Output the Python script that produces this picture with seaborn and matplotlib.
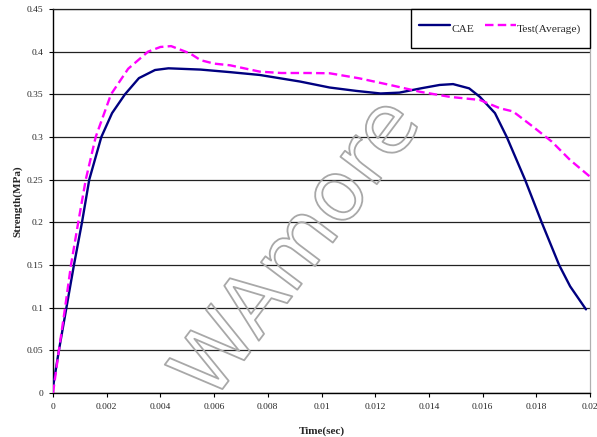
import matplotlib
matplotlib.use("Agg")
import matplotlib.pyplot as plt
import matplotlib.patheffects as pe
import seaborn as sns
import pandas as pd

# ---- data ----
cae_time = [0, 0.00022, 0.0005, 0.00078, 0.00108, 0.00135, 0.0018, 0.0022, 0.00268,
            0.0032, 0.0038, 0.0043, 0.0055, 0.0066, 0.0077, 0.0092, 0.0103, 0.0113,
            0.0122, 0.0129, 0.0137, 0.0144, 0.0149, 0.0155, 0.0159, 0.01646, 0.0169,
            0.01758, 0.0182, 0.01885, 0.01926, 0.01985]
cae_strength = [0.007, 0.05, 0.10, 0.15, 0.20, 0.25, 0.30, 0.328, 0.35,
                0.369, 0.3785, 0.3805, 0.379, 0.376, 0.3727, 0.365, 0.358, 0.354,
                0.351, 0.352, 0.357, 0.361, 0.362, 0.357, 0.347, 0.328, 0.30,
                0.25, 0.20, 0.15, 0.125, 0.098]

test_time = [0, 0.00022, 0.00045, 0.00067, 0.00094, 0.00122, 0.00159, 0.00216, 0.0028,
             0.00354, 0.004, 0.0044, 0.0051, 0.0055, 0.006, 0.0066, 0.0077, 0.0085,
             0.0095, 0.0103, 0.0114, 0.01255, 0.01367, 0.01479, 0.0159, 0.01665,
             0.01713, 0.01788, 0.01858, 0.01926, 0.0200]
test_strength = [0.0, 0.05, 0.10, 0.15, 0.20, 0.25, 0.30, 0.35, 0.38,
                 0.40, 0.4055, 0.4065, 0.398, 0.390, 0.386, 0.384, 0.3766, 0.375,
                 0.375, 0.3747, 0.3688, 0.361, 0.353, 0.347, 0.3434, 0.3336,
                 0.330, 0.312, 0.2945, 0.273, 0.2535]

series_names = ["CAE", "Test(Average)"]
x_ticks = [0, 0.002, 0.004, 0.006, 0.008, 0.01, 0.012, 0.014, 0.016, 0.018, 0.02]
x_tick_labels = ["0", "0.002", "0.004", "0.006", "0.008", "0.01", "0.012", "0.014",
                 "0.016", "0.018", "0.02"]
y_ticks = [0, 0.05, 0.1, 0.15, 0.2, 0.25, 0.3, 0.35, 0.4, 0.45]
y_tick_labels = ["0", "0.05", "0.1", "0.15", "0.2", "0.25", "0.3", "0.35", "0.4", "0.45"]

df = pd.concat([
    pd.DataFrame({"Time": cae_time, "Strength": cae_strength, "Series": series_names[0]}),
    pd.DataFrame({"Time": test_time, "Strength": test_strength, "Series": series_names[1]}),
])

sns.set_style("white")
plt.rcParams["font.family"] = ["Liberation Serif", "DejaVu Serif"]

fig = plt.figure(figsize=(5.97, 4.37), dpi=100)
ax = fig.add_axes([53 / 597, 1 - 393 / 437, 537 / 597, 384 / 437])

sns.lineplot(data=df, x="Time", y="Strength", hue="Series", style="Series",
             palette={"CAE": "#000080", "Test(Average)": "#FF00FF"},
             dashes={"CAE": "", "Test(Average)": (3.6, 1.8)},
             linewidth=1.7, sort=False, estimator=None, ax=ax, zorder=3)

ax.set_xlim(0, 0.02)
ax.set_ylim(0, 0.45)
ax.set_xticks(x_ticks)
ax.set_xticklabels(x_tick_labels, fontsize=6.8)
ax.set_yticks(y_ticks)
ax.set_yticklabels(y_tick_labels, fontsize=6.8)
ax.yaxis.grid(True, color="#222222", linewidth=0.9)
ax.xaxis.grid(False)
ax.tick_params(axis="both", which="both", direction="out", length=3, width=0.8,
               color="black", pad=4, left=True, bottom=True)

for side in ["left", "bottom"]:
    ax.spines[side].set_color("black")
    ax.spines[side].set_linewidth(1.0)
ax.spines["top"].set_color("#222222")
ax.spines["top"].set_linewidth(0.9)
ax.spines["right"].set_color("#b0b0b0")
ax.spines["right"].set_linewidth(0.9)

ax.set_xlabel("Time(sec)", fontsize=8, fontweight="bold", labelpad=11)
ax.set_ylabel("Strength(MPa)", fontsize=8, fontweight="bold", labelpad=3)

handles, labels = ax.get_legend_handles_labels()
leg = ax.legend(handles, labels, loc="upper right", bbox_to_anchor=(1.0, 1.0),
                ncol=2, frameon=True, fancybox=False, borderaxespad=0,
                fontsize=8.2, handlelength=2.7, handletextpad=0.1,
                handleheight=2.6, columnspacing=1.0, borderpad=0.75)
leg.get_frame().set_edgecolor("black")
leg.get_frame().set_linewidth(1.0)
leg.get_frame().set_facecolor("white")
leg.get_frame().set_alpha(1)

# watermark
fig.text(0.50, 0.43, "WAmore", fontsize=60, rotation=53, ha="center", va="center",
         family="DejaVu Sans", color=(1, 1, 1, 0),
         path_effects=[pe.Stroke(linewidth=1.3, foreground="#a8a8a8")], zorder=10)

fig.savefig("out.png", dpi=100)
